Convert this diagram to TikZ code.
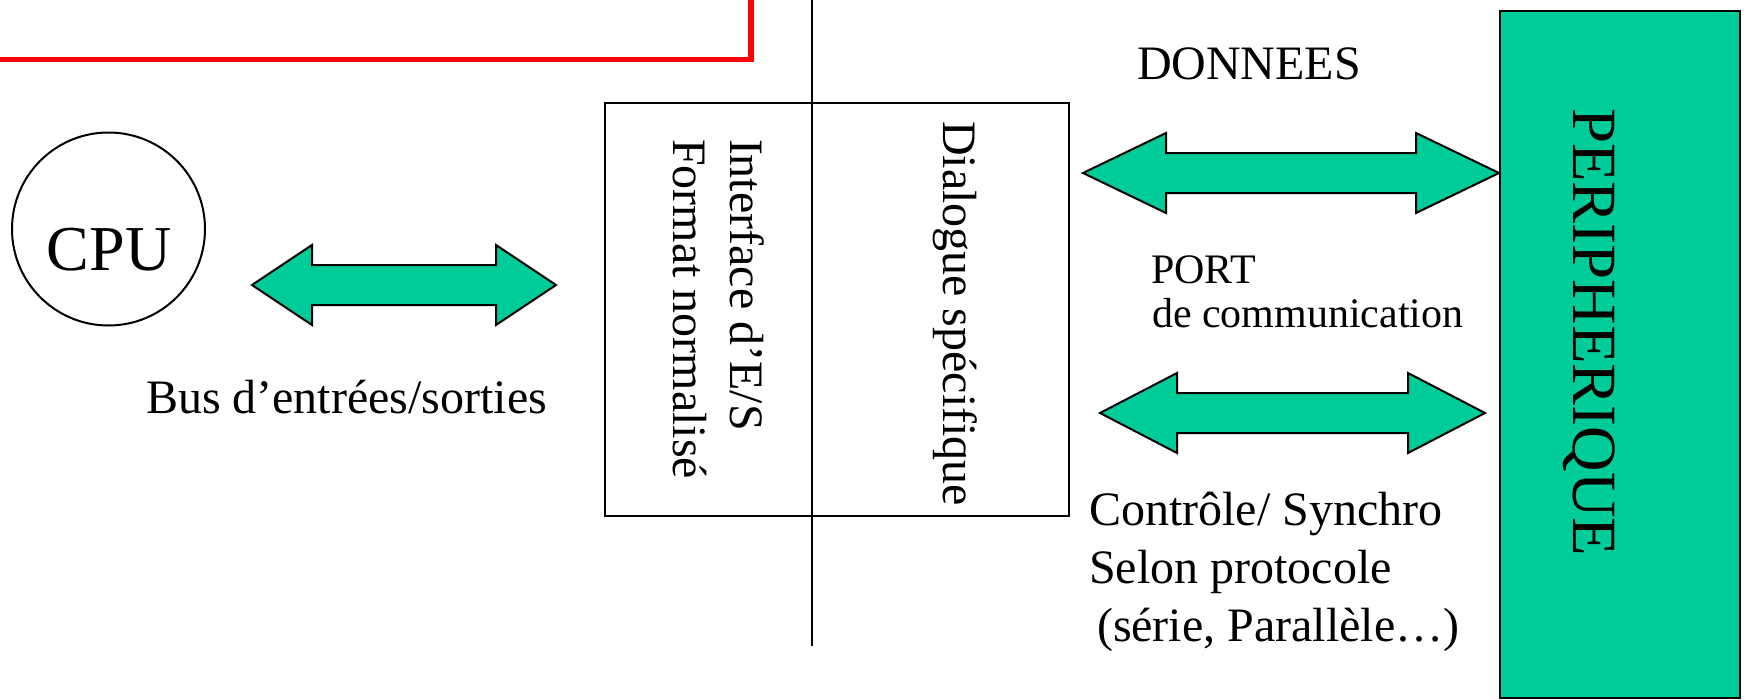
\documentclass[tikz,border=0pt]{standalone}
\usepackage{fontspec}
\setmainfont{Liberation Serif}
\definecolor{pgreen}{RGB}{0,204,153}
\newcommand{\dblarrow}[4]{%
  \draw[blockarrow] (#1,#3) -- (#1+#4,#3-40) -- (#1+#4,#3-20) -- (#2-#4,#3-20) -- (#2-#4,#3-40)
    -- (#2,#3) -- (#2-#4,#3+40) -- (#2-#4,#3+20) -- (#1+#4,#3+20) -- (#1+#4,#3+40) -- cycle;}
\begin{document}
\begin{tikzpicture}[x=1pt,y=-1pt,line width=2pt,
  txt/.style={inner sep=0pt,font=\fontsize{48}{57.6}\selectfont},
  smalltxt/.style={inner sep=0pt,font=\fontsize{42}{44}\selectfont},
  bigtxt/.style={inner sep=0pt,font=\fontsize{64}{76}\selectfont},
  blockarrow/.style={draw=black,fill=pgreen,line width=2pt,line join=miter},
  boxline/.style={draw=black,line width=2pt}]
\useasboundingbox (0,0) rectangle (1747,699);
\fill[white] (0,0) rectangle (1747,699);
% red title frame (cut off)
\draw[red,line width=5.5pt] (-30,-30) rectangle (751,59.5);
% separator line
\coordinate (vtop) at (812,0);
\coordinate (vbot) at (812,646);
% CPU
\node[boxline,circle,minimum size=193pt,inner sep=0pt] (cpu) at (108.5,229) {};
\node[bigtxt,anchor=base] (cpulbl) at (109,270) {CPU};
% interface box
\node[boxline,minimum width=464pt,minimum height=413pt,inner sep=0pt,anchor=north west] (iface) at (604,102) {};
\draw[boxline] (vtop) -- (vbot);
\node[txt,rotate=-90,anchor=base west] (if1) at (730,138) {Interface d’E/S};
\node[txt,rotate=-90,anchor=base west] (if2) at (673,138) {Format normalisé};
\node[txt,rotate=-90,anchor=base west] (dial) at (943,120) {Dialogue spécifique};
% peripheral
\node[boxline,fill=pgreen,minimum width=240pt,minimum height=687pt,inner sep=0pt,anchor=north west] (per) at (1499,10) {};
\node[inner sep=0pt,font=\fontsize{63}{75}\selectfont,rotate=-90,anchor=base west] (perlbl) at (1573,107) {PERIPHERIQUE};
% arrows
\dblarrow{252}{556}{285}{60}
\dblarrow{1083}{1499}{173}{83}
\dblarrow{1100}{1485}{413}{77}
% labels
\node[txt,anchor=base west] (bus) at (145,413) {Bus d’entrées/sorties};
\node[txt,anchor=base west] (don) at (1136,79) {DONNEES};
\node[smalltxt,anchor=base west] (port1) at (1150,283) {PORT};
\node[smalltxt,anchor=base west] (port2) at (1151,327) {de communication};
\node[txt,anchor=base west] (ctl1) at (1088,525) {Contrôle/ Synchro};
\node[txt,anchor=base west] (ctl2) at (1088,583) {Selon protocole};
\node[txt,anchor=base west] (ctl3) at (1096,641) {(série, Parallèle…)};
\end{tikzpicture}
\end{document}
